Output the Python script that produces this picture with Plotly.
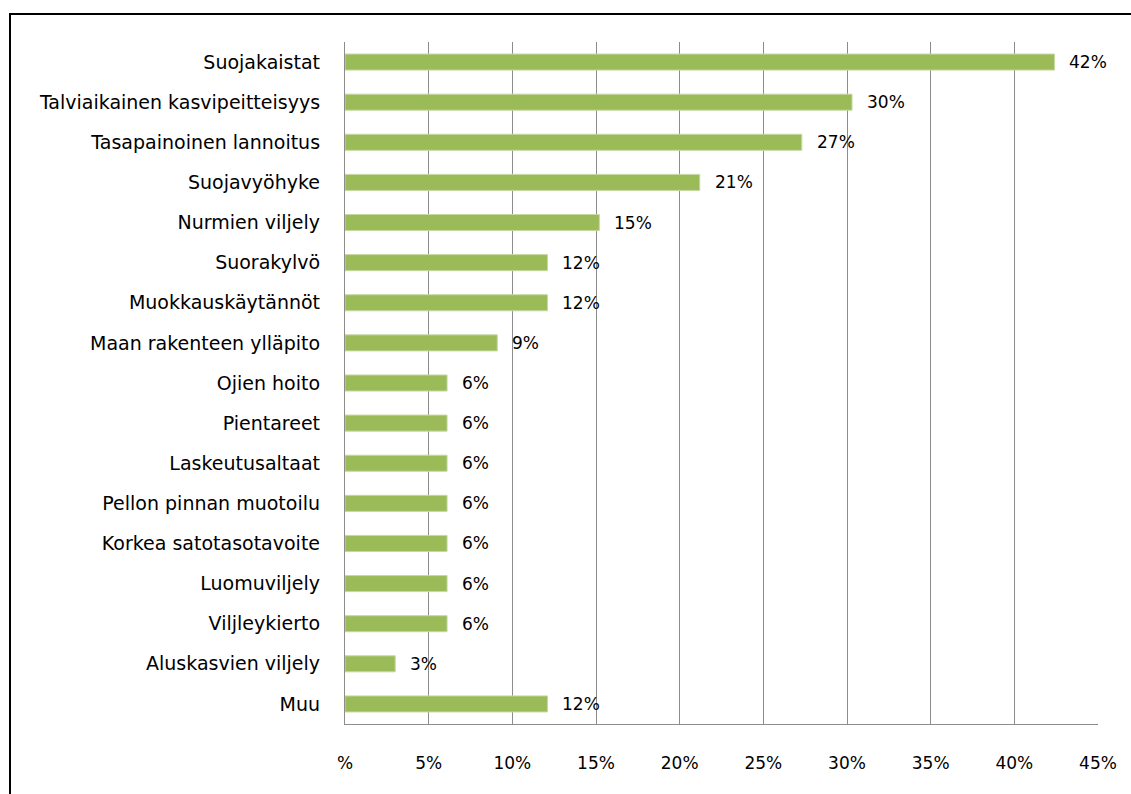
import plotly.graph_objects as go

categories = [
    "Suojakaistat", "Talviaikainen kasvipeitteisyys", "Tasapainoinen lannoitus",
    "Suojavyöhyke", "Nurmien viljely", "Suorakylvö", "Muokkauskäytännöt",
    "Maan rakenteen ylläpito", "Ojien hoito", "Pientareet", "Laskeutusaltaat",
    "Pellon pinnan muotoilu", "Korkea satotasotavoite", "Luomuviljely",
    "Viljleykierto", "Aluskasvien viljely", "Muu",
]
values = [42.4, 30.3, 27.3, 21.2, 15.2, 12.1, 12.1, 9.1, 6.1, 6.1, 6.1, 6.1, 6.1, 6.1, 6.1, 3.0, 12.1]
value_labels = ["42%", "30%", "27%", "21%", "15%", "12%", "12%", "9%", "6%", "6%", "6%",
                "6%", "6%", "6%", "6%", "3%", "12%"]
tick_vals = [0, 5, 10, 15, 20, 25, 30, 35, 40, 45]
tick_text = ["%", "5%", "10%", "15%", "20%", "25%", "30%", "35%", "40%", "45%"]

FONT = "DejaVu Sans"
GRID = "#8c8c8c"

fig = go.Figure()
fig.add_trace(go.Bar(
    y=categories, x=values, orientation="h",
    marker=dict(color="#9BBB59", line=dict(color="#c6d9a3", width=1)),
    width=0.4,
    hoverinfo="skip",
))
for c, v, t in zip(categories, values, value_labels):
    fig.add_annotation(x=v, y=c, text=t, showarrow=False, xanchor="left",
                       xshift=13, font=dict(family=FONT, size=17, color="#000"))

fig.update_layout(
    width=1131, height=794,
    margin=dict(l=345, r=33, t=42, b=70),
    paper_bgcolor="white", plot_bgcolor="white",
    showlegend=False,
    font=dict(family=FONT, size=17, color="#000"),
    xaxis=dict(range=[0, 45], tickvals=tick_vals, ticktext=tick_text,
               tickfont=dict(family=FONT, size=17, color="#000"),
               showgrid=True, gridcolor=GRID, gridwidth=1.3,
               showline=True, linecolor=GRID, linewidth=1.3,
               zeroline=False, ticks="", ticklabelstandoff=23, fixedrange=True),
    yaxis=dict(autorange="reversed", showgrid=False, showline=True,
               tickfont=dict(family=FONT, size=19, color="#000"),
               linecolor=GRID, linewidth=1.3, ticks="", ticklabelstandoff=20,
               fixedrange=True),
    shapes=[dict(type="rect", xref="paper", yref="paper",
                 x0=(10 - 345) / 753, x1=(1145 - 345) / 753,
                 y0=-(810 - 724) / 682, y1=1 + (42 - 14) / 682,
                 line=dict(color="black", width=2), layer="below")],
)

fig.write_html("out.html")
